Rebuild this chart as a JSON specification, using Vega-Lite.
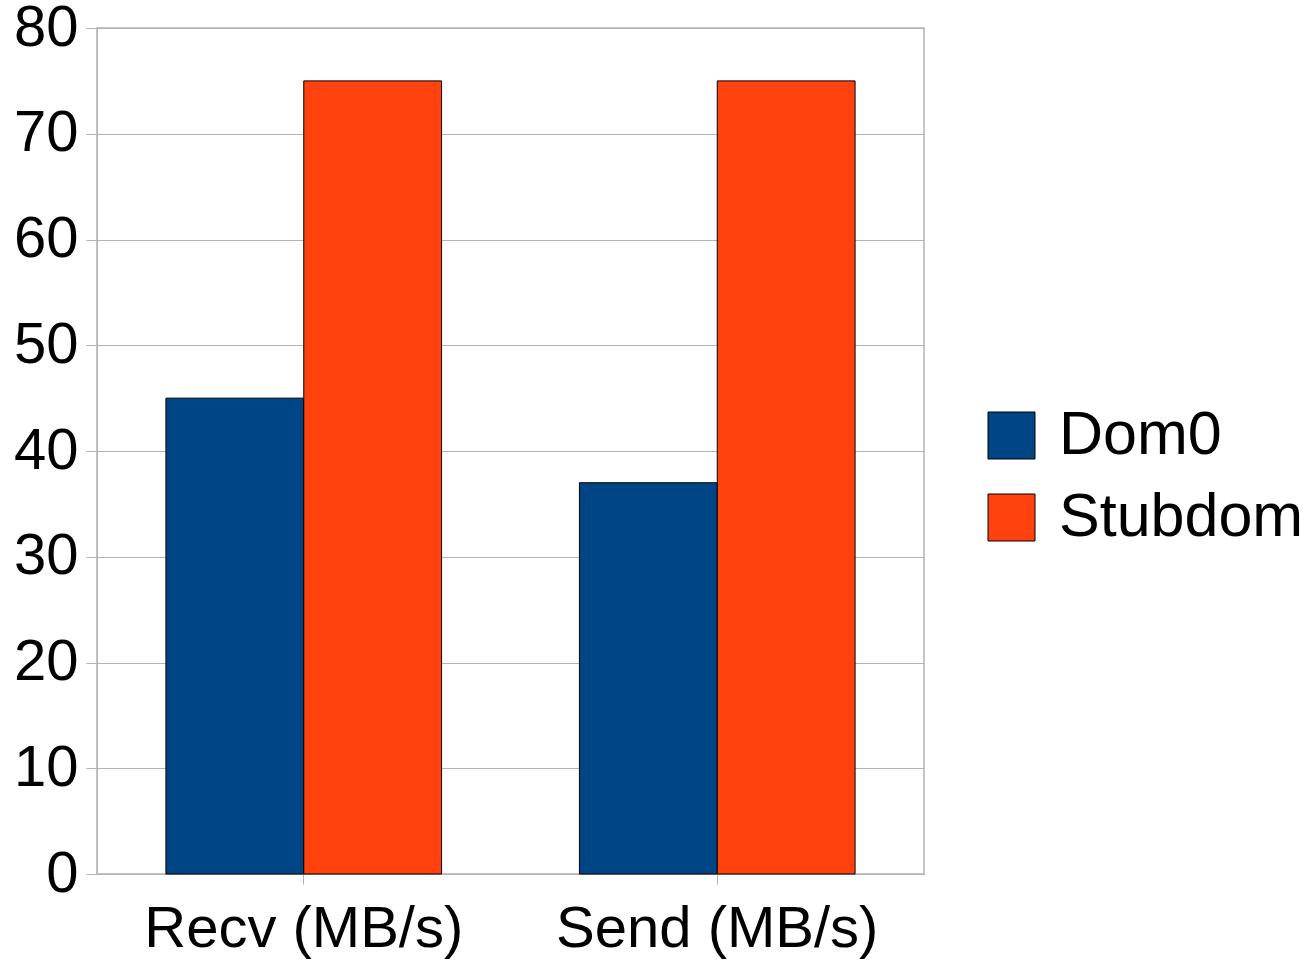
{
  "$schema": "https://vega.github.io/schema/vega-lite/v6.json",
  "width": 827,
  "height": 846,
  "autosize": {"type": "none"},
  "padding": {"left": 97, "top": 28, "right": 387, "bottom": 87},
  "background": "white",
  "config": {
    "font": "Liberation Sans",
    "view": {"stroke": "#b3b3b3", "strokeWidth": 1.5}
  },
  "data": {
    "values": [
      {"metric": "Recv (MB/s)", "domain": "Dom0", "value": 45},
      {"metric": "Recv (MB/s)", "domain": "Stubdom", "value": 75},
      {"metric": "Send (MB/s)", "domain": "Dom0", "value": 37},
      {"metric": "Send (MB/s)", "domain": "Stubdom", "value": 75}
    ]
  },
  "mark": {"type": "bar", "stroke": "black", "strokeWidth": 1},
  "encoding": {
    "x": {
      "field": "metric",
      "type": "nominal",
      "title": null,
      "scale": {"paddingInner": 0.3334, "paddingOuter": 0.1667},
      "axis": {
        "labelAngle": 0,
        "labelFontSize": 58,
        "labelColor": "black",
        "labelPadding": 16,
        "labelLimit": 600,
        "tickSize": 10,
        "tickColor": "#b3b3b3",
        "domainColor": "#b3b3b3",
        "grid": false
      }
    },
    "xOffset": {"field": "domain", "type": "nominal", "scale": {"paddingInner": 0, "paddingOuter": 0}},
    "y": {
      "field": "value",
      "type": "quantitative",
      "title": null,
      "scale": {"domain": [0, 80], "nice": false},
      "axis": {
        "values": [0, 10, 20, 30, 40, 50, 60, 70, 80],
        "labelFontSize": 58,
        "labelColor": "black",
        "labelPadding": 8,
        "tickSize": 11,
        "tickColor": "#b3b3b3",
        "domainColor": "#b3b3b3",
        "gridColor": "#b3b3b3",
        "gridWidth": 1
      }
    },
    "color": {
      "field": "domain",
      "type": "nominal",
      "title": null,
      "scale": {"domain": ["Dom0", "Stubdom"], "range": ["#004586", "#ff420e"]},
      "legend": {
        "orient": "none",
        "legendX": 884,
        "legendY": 377,
        "symbolType": "square",
        "symbolSize": 2209,
        "symbolStrokeColor": "black",
        "symbolStrokeWidth": 1,
        "labelFontSize": 61,
        "labelColor": "black",
        "labelOffset": 17,
        "rowPadding": 20,
        "labelLimit": 400
      }
    }
  }
}
